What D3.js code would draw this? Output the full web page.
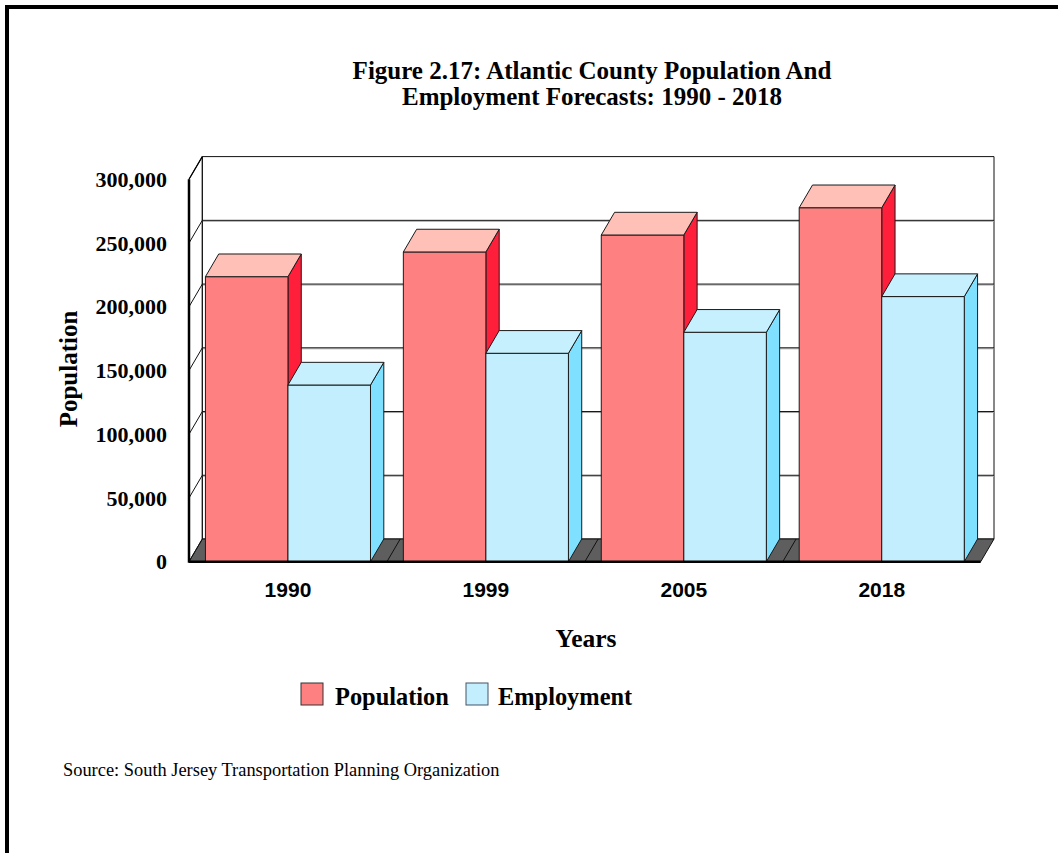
<!DOCTYPE html>
<html>
<head>
<meta charset="utf-8">
<script src="https://cdn.jsdelivr.net/npm/d3@7"></script>
<style>
  body { margin: 0; background: #fff; }
  svg { display: block; }
</style>
</head>
<body>
<svg id="chart" width="1058" height="853"></svg>
<script>
// data
const years = ["1990", "1999", "2005", "2018"];
const population = [223600, 243000, 256300, 277700];
const employment = [138600, 163500, 180000, 208000];
const seriesNames = ["Population", "Employment"];
const yTicks = [0, 50000, 100000, 150000, 200000, 250000, 300000];

const serif = "'Liberation Serif', 'Times New Roman', serif";
const sans = "'Liberation Sans', Arial, sans-serif";

const colors = {
  Population: { front: "#ff8080", top: "#ffc0b8", side: "#ff1f3a" },
  Employment: { front: "#c2eefd", top: "#c6f0fe", side: "#80e0ff" }
};

const svg = d3.select("#chart");

// frame (right/bottom run off the page)
svg.append("rect")
  .attr("x", 7).attr("y", 7).attr("width", 1200).attr("height", 1000)
  .attr("fill", "none").attr("stroke", "#000").attr("stroke-width", 4);

// front plane + depth offset
const left = 189, right = 980.7, bottom = 561.7, topY = 179.3;
const dx = 13.3, dy = -22.7;

const x = d3.scaleBand().domain(years).range([left, right])
  .paddingInner(0.166).paddingOuter(0.083);
const xs = d3.scaleBand().domain(seriesNames).range([0, x.bandwidth()]);
const y = d3.scaleLinear().domain([0, 300000]).range([bottom, topY]);

const poly = (pts) => "M" + pts.map(p => p.join(",")).join("L") + "Z";

// back wall
svg.append("path")
  .attr("d", poly([[left + dx, y(0) + dy], [right + dx, y(0) + dy], [right + dx, y(300000) + dy], [left + dx, y(300000) + dy]]))
  .attr("fill", "#fff").attr("stroke", "#111").attr("stroke-width", 1);

// gridlines on back wall + left wall
const grid = svg.append("g");
yTicks.filter(v => v > 0 && v < 300000).forEach(v => {
  grid.append("line")
    .attr("x1", left + dx).attr("x2", right + dx)
    .attr("y1", y(v) + dy + 1).attr("y2", y(v) + dy + 1)
    .attr("stroke", "#aaa").attr("stroke-width", 1);
  grid.append("line")
    .attr("x1", left + dx).attr("x2", right + dx)
    .attr("y1", y(v) + dy).attr("y2", y(v) + dy)
    .attr("stroke", "#111").attr("stroke-width", 1);
});
yTicks.filter(v => v > 0).forEach(v => {
  grid.append("line")
    .attr("x1", left).attr("y1", y(v))
    .attr("x2", left + dx).attr("y2", y(v) + dy)
    .attr("stroke", "#111").attr("stroke-width", 1);
});
// left wall back edge
grid.append("line")
  .attr("x1", left + dx).attr("x2", left + dx)
  .attr("y1", y(0) + dy).attr("y2", y(300000) + dy)
  .attr("stroke", "#111").attr("stroke-width", 1);

// floor
svg.append("path")
  .attr("d", poly([[left, bottom], [right, bottom], [right + dx, bottom + dy], [left + dx, bottom + dy]]))
  .attr("fill", "#5e5e5e").attr("stroke", "#111").attr("stroke-width", 1);
const floorDiv = [left].concat(years.map(d => x(d) - x.step() * x.paddingInner() / 2).slice(1));
floorDiv.forEach(px => {
  svg.append("line")
    .attr("x1", px).attr("y1", bottom).attr("x2", px + dx).attr("y2", bottom + dy)
    .attr("stroke", "#111").attr("stroke-width", 1);
});

// bars
const bars = [];
years.forEach((yr, i) => {
  bars.push({ year: yr, series: "Population", value: population[i] });
  bars.push({ year: yr, series: "Employment", value: employment[i] });
});

const barG = svg.append("g").attr("stroke", "#1a1a1a").attr("stroke-width", 1).attr("stroke-linejoin", "round");
bars.forEach(b => {
  const x0 = x(b.year) + xs(b.series);
  const x1 = x0 + xs.bandwidth();
  const y0 = y(0), y1 = y(b.value);
  const c = colors[b.series];
  barG.append("path").attr("fill", c.side)
    .attr("d", poly([[x1, y0], [x1 + dx, y0 + dy], [x1 + dx, y1 + dy], [x1, y1]]));
  barG.append("path").attr("fill", c.front)
    .attr("d", poly([[x0, y0], [x1, y0], [x1, y1], [x0, y1]]));
  barG.append("path").attr("fill", c.top)
    .attr("d", poly([[x0, y1], [x1, y1], [x1 + dx, y1 + dy], [x0 + dx, y1 + dy]]));
});

// front axis and floor front edge
svg.append("line")
  .attr("x1", left).attr("x2", left).attr("y1", topY).attr("y2", bottom + 1)
  .attr("stroke", "#000").attr("stroke-width", 2.5);
svg.append("line")
  .attr("x1", left).attr("x2", right).attr("y1", bottom).attr("y2", bottom)
  .attr("stroke", "#000").attr("stroke-width", 2.5);
svg.append("line")
  .attr("x1", left).attr("y1", topY).attr("x2", left + dx).attr("y2", topY + dy)
  .attr("stroke", "#000").attr("stroke-width", 1.2);

// y tick labels
svg.append("g").selectAll("text").data(yTicks).join("text")
  .attr("x", 167).attr("y", d => y(d))
  .attr("dy", "0.35em")
  .attr("text-anchor", "end")
  .attr("font-family", serif).attr("font-weight", "bold").attr("font-size", 22)
  .text(d => d3.format(",")(d));

// x labels
svg.append("g").selectAll("text").data(years).join("text")
  .attr("x", d => x(d) + x.bandwidth() / 2)
  .attr("y", 597)
  .attr("text-anchor", "middle")
  .attr("font-family", sans).attr("font-weight", "bold").attr("font-size", 21)
  .text(d => d);

// titles
const title = svg.append("text")
  .attr("text-anchor", "middle")
  .attr("font-family", serif).attr("font-weight", "bold").attr("font-size", 25);
title.append("tspan").attr("x", 592).attr("y", 79).text("Figure 2.17: Atlantic County Population And");
title.append("tspan").attr("x", 592).attr("y", 105).text("Employment Forecasts: 1990 - 2018");

svg.append("text")
  .attr("transform", "translate(77,369) rotate(-90)")
  .attr("text-anchor", "middle")
  .attr("font-family", serif).attr("font-weight", "bold").attr("font-size", 25)
  .text("Population");

svg.append("text")
  .attr("x", 586).attr("y", 647)
  .attr("text-anchor", "middle")
  .attr("font-family", serif).attr("font-weight", "bold").attr("font-size", 25.5)
  .text("Years");

// legend
const legend = [
  { name: "Population", sx: 301, tx: 335, stroke: "#333" },
  { name: "Employment", sx: 466, tx: 498, stroke: "#456" }
];
const lg = svg.append("g");
legend.forEach(l => {
  lg.append("rect")
    .attr("x", l.sx).attr("y", 683).attr("width", 22).attr("height", 22)
    .attr("fill", colors[l.name].front).attr("stroke", l.stroke).attr("stroke-width", 1);
  lg.append("text")
    .attr("x", l.tx).attr("y", 705)
    .attr("font-family", serif).attr("font-weight", "bold").attr("font-size", 24.4)
    .text(l.name);
});

// source
svg.append("text")
  .attr("x", 63).attr("y", 776)
  .attr("font-family", serif).attr("font-size", 18.4)
  .text("Source: South Jersey Transportation Planning Organization");
</script>
</body>
</html>
